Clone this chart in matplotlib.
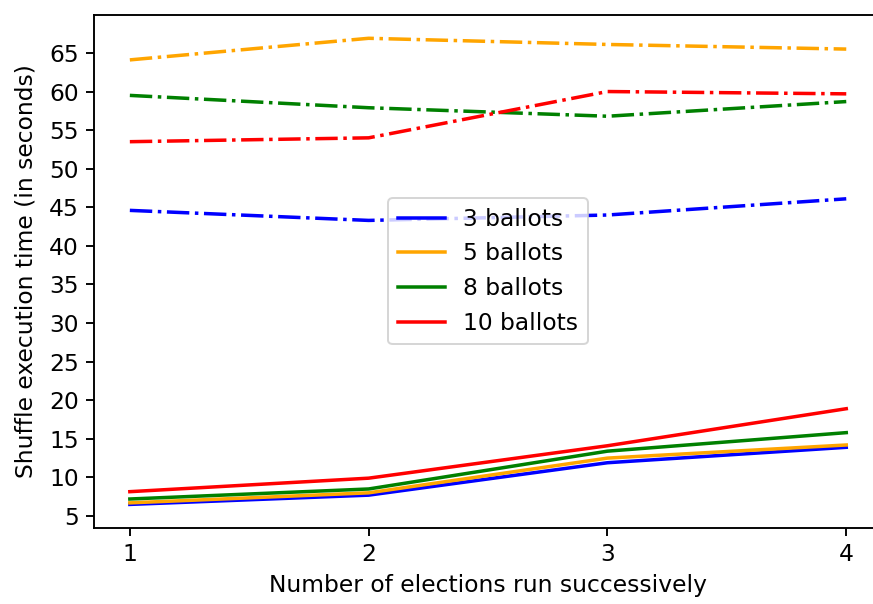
import matplotlib
matplotlib.use("Agg")
import matplotlib.pyplot as plt

elections = [1, 2, 3, 4]
series_labels = ["3 ballots", "5 ballots", "8 ballots", "10 ballots"]
series_colors = ["blue", "orange", "green", "red"]

# shuffle time, solid lines
shuffle_3 = [6.5, 7.7, 11.9, 13.9]
shuffle_5 = [6.7, 8.0, 12.5, 14.2]
shuffle_8 = [7.2, 8.5, 13.4, 15.8]
shuffle_10 = [8.15, 9.9, 14.1, 18.9]

# second measurement, dash-dot lines
other_3 = [44.6, 43.3, 44.0, 46.1]
other_5 = [64.1, 66.9, 66.1, 65.5]
other_8 = [59.5, 57.9, 56.8, 58.7]
other_10 = [53.5, 54.0, 60.0, 59.7]

solid = [shuffle_3, shuffle_5, shuffle_8, shuffle_10]
dashed = [other_3, other_5, other_8, other_10]

plt.rcParams["font.family"] = ["DejaVu Sans"]
plt.rcParams["font.size"] = 11.7
plt.rcParams["lines.linewidth"] = 1.75
plt.rcParams["axes.linewidth"] = 0.95
plt.rcParams["xtick.major.width"] = 0.95
plt.rcParams["ytick.major.width"] = 0.95
plt.rcParams["xtick.major.size"] = 4.1
plt.rcParams["ytick.major.size"] = 4.1

fig = plt.figure(figsize=(873 / 144, 604 / 144), dpi=144)
ax = fig.add_axes([0.1077, 0.1263, 0.9027, 0.8489])

for vals, lab, col in zip(solid, series_labels, series_colors):
    ax.plot(elections, vals, color=col, label=lab)
for vals, col in zip(dashed, series_colors):
    ax.plot(elections, vals, color=col, linestyle="-.")

ax.spines["right"].set_visible(False)
ax.set_xticks(elections)
ax.set_yticks(range(5, 70, 5))
ax.set_xlabel("Number of elections run successively")
ax.set_ylabel("Shuffle execution time (in seconds)", labelpad=6)
ax.legend(loc="center")

fig.savefig("out.png", dpi=144)
